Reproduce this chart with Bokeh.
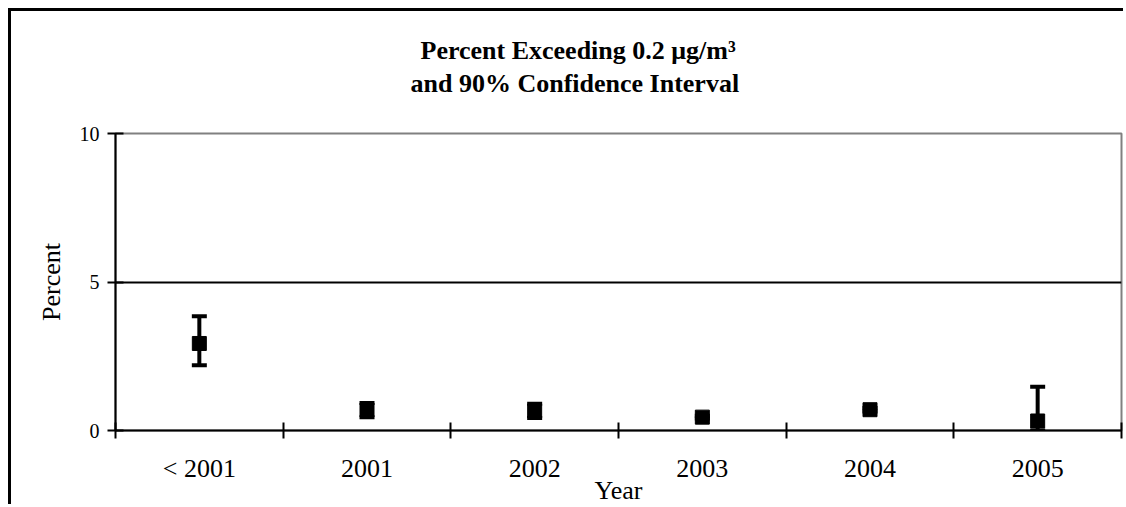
from bokeh.plotting import figure
from bokeh.models import ColumnDataSource, FixedTicker, Whisker, TeeHead, Title, Range1d
from bokeh.embed import file_html
from bokeh.resources import INLINE

categories = ["< 2001", "2001", "2002", "2003", "2004", "2005"]
percent = [2.93, 0.69, 0.66, 0.45, 0.70, 0.32]
lower_ci = [2.20, 0.45, 0.42, 0.40, 0.64, 0.0]
upper_ci = [3.85, 0.93, 0.90, 0.50, 0.76, 1.47]
y_ticks = [0, 5, 10]

FONT = "Liberation Serif"

xpos = [i + 0.5 for i in range(len(categories))]
src = ColumnDataSource(dict(x=xpos, y=percent, lo=lower_ci, hi=upper_ci))

p = figure(width=1115, height=496,
           x_range=Range1d(0, len(categories)), y_range=Range1d(0, 10),
           output_backend="svg", toolbar_location=None, title=None,
           min_border_left=104, min_border_right=5, min_border_bottom=76, min_border_top=122)
p.styles = {"margin-left": "8px", "margin-top": "8px",
            "border-left": "3px solid black", "border-top": "3px solid black"}

p.outline_line_color = "#808080"
p.outline_line_width = 2
p.xgrid.visible = False
p.ygrid.ticker = FixedTicker(ticks=[5])
p.ygrid.grid_line_color = "black"
p.ygrid.grid_line_width = 2

ya = p.yaxis[0]
ya.ticker = FixedTicker(ticks=y_ticks, minor_ticks=[])
ya.major_tick_in = 8
ya.major_tick_out = 8
ya.minor_tick_in = 0
ya.minor_tick_out = 0
ya.axis_line_width = 2
ya.major_tick_line_width = 2
ya.axis_line_color = "black"
ya.major_tick_line_color = "black"
ya.major_label_text_font = FONT
ya.major_label_text_font_size = "20px"
ya.major_label_text_color = "black"
ya.major_label_standoff = 8
ya.axis_label = "Percent"
ya.axis_label_text_font = FONT
ya.axis_label_text_font_size = "26px"
ya.axis_label_text_font_style = "normal"
ya.axis_label_text_color = "black"
ya.axis_label_standoff = 11

xa = p.xaxis[0]
xa.ticker = FixedTicker(ticks=xpos, minor_ticks=list(range(len(categories) + 1)))
xa.major_label_overrides = {x: c for x, c in zip(xpos, categories)}
xa.major_tick_in = 0
xa.major_tick_out = 0
xa.minor_tick_in = 8
xa.minor_tick_out = 8
xa.minor_tick_line_color = "black"
xa.minor_tick_line_width = 2
xa.axis_line_width = 2
xa.axis_line_color = "black"
xa.major_label_text_font = FONT
xa.major_label_text_font_size = "26px"
xa.major_label_text_color = "black"
xa.major_label_standoff = 15
xa.axis_label = "Year"
xa.axis_label_text_font = FONT
xa.axis_label_text_font_size = "26px"
xa.axis_label_text_font_style = "normal"
xa.axis_label_text_color = "black"
xa.axis_label_standoff = -10

wh = Whisker(source=src, base="x", upper="hi", lower="lo", dimension="height",
             line_width=4, line_color="black",
             upper_head=TeeHead(size=15, line_width=4, line_color="black"),
             lower_head=TeeHead(size=15, line_width=4, line_color="black"))
p.add_layout(wh)
p.scatter("x", "y", source=src, marker="square", size=14, color="black")

spacer = Title(text=".", text_color="white", text_font=FONT, text_font_size="4px",
               standoff=30)
t2 = Title(text="and 90% Confidence Interval", align="left", offset=295,
           text_font=FONT, text_font_size="26px", text_font_style="bold",
           text_color="black", standoff=2)
t1 = Title(text="Percent Exceeding 0.2 \u03bcg/m\u00b3", align="left", offset=305,
           text_font=FONT, text_font_size="26px", text_font_style="bold",
           text_color="black", standoff=2)
p.add_layout(spacer, "above")
p.add_layout(t2, "above")
p.add_layout(t1, "above")

open("out.html", "w").write(file_html(p, INLINE))
